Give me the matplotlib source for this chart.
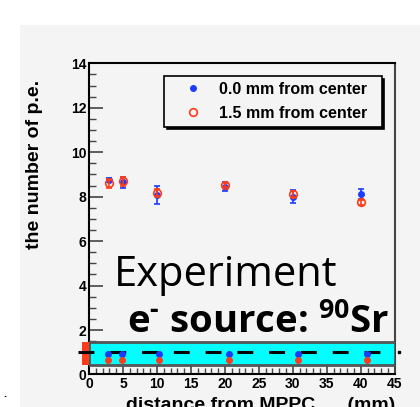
import numpy as np
import matplotlib
matplotlib.use("Agg")
import matplotlib.pyplot as plt
from matplotlib.patches import Rectangle

plt.rcParams['font.family'] = ['Liberation Sans', 'DejaVu Sans']
plt.rcParams['mathtext.fontset'] = 'custom'
plt.rcParams['mathtext.bf'] = 'Open Sans:bold'
plt.rcParams['mathtext.rm'] = 'Open Sans:bold'
plt.rcParams['mathtext.default'] = 'bf'

# 測定データ
dist = [3, 5, 10, 20, 30, 40]
pe_center = [8.75, 8.65, 8.07, 8.45, 8.0, 8.12]
err_center = [0.1, 0.25, 0.4, 0.2, 0.28, 0.22]
pe_off = [8.6, 8.7, 8.18, 8.52, 8.12, 7.75]
err_off = [0.2, 0.2, 0.15, 0.1, 0.15, 0.12]

# 下段の帯に描かれた点
band_x = [2.8, 4.8, 10.3, 20.6, 30.8, 40.9]
band_blue = [0.92, 0.92, 0.92, 0.92, 0.92, 0.92]
band_red = [0.65, 0.65, 0.65, 0.65, 0.65, 0.65]
band_lo, band_hi = 0.43, 1.46
ref_level = 1.0

bg = '#f4f4f4'
blue = '#1a3cff'
red = '#ff3b1a'

fig = plt.figure(figsize=(4.2, 4.07), dpi=100)
fig.patch.set_facecolor('white')
fig.patches.append(Rectangle((20 / 420, 0), 1, 1 - 25 / 407, transform=fig.transFigure,
                             facecolor=bg, edgecolor='none', zorder=-5))

ax = fig.add_axes([0.212, 0.0799, 0.728, 0.7646])
ax.set_zorder(2)
ax.set_facecolor(bg)
ax.set_xlim(0, 45)
ax.set_ylim(0, 14)

eb1 = ax.errorbar(dist, pe_center, yerr=err_center, fmt='o', color=blue, ms=4,
                  elinewidth=1.2, capsize=2, capthick=1.2, zorder=3)
eb2 = ax.errorbar(dist, pe_off, yerr=err_off, fmt='o', color=red, mfc='none', mew=1.2,
                  ms=5.5, elinewidth=1.2, capsize=2, capthick=1.2, zorder=4)

# 帯
ax.add_patch(Rectangle((0, band_lo), 45, band_hi - band_lo, facecolor='#00ffff',
                       edgecolor='#555555', lw=2, zorder=5))
ax.add_patch(Rectangle((-1.0, band_lo), 1.0, band_hi - band_lo, facecolor=red,
                       edgecolor='none', clip_on=False, zorder=5))
ax.plot([-1.6, 45], [ref_level, ref_level], color='black', lw=2.2,
        dashes=(5.2, 5.2), clip_on=False, zorder=6)
ax.plot([45.6], [ref_level], 's', color='black', ms=1.5, clip_on=False, zorder=6)
ax.plot(band_x, band_blue, 'o', color=blue, ms=4, zorder=7)
ax.plot(band_x, band_red, 'o', color=red, ms=4, zorder=7)

ax.text(0.082, 0.285, 'Experiment', transform=ax.transAxes, fontsize=30,
        family='Open Sans', color='black', zorder=8)
ax.text(0.123, 0.135, r'e$^{\text{-}}$ source: $^{90}$Sr', transform=ax.transAxes,
        fontsize=27.5, family='Open Sans', fontweight='bold', color='black', zorder=8)

leg = ax.legend([eb1[0], eb2[0]], ['0.0 mm from center', '1.5 mm from center'],
                loc='upper left', bbox_to_anchor=(0.245, 0.808, 0.712, 0.151),
                mode='expand', borderaxespad=0,
                frameon=True, fancybox=False, shadow={'color': 'black', 'alpha': 1},
                edgecolor='black', facecolor=bg, framealpha=1,
                prop={'weight': 'bold', 'size': 11.5}, handlelength=2.9,
                handletextpad=0.15, borderpad=0.37, labelspacing=0.55)
leg.get_frame().set_linewidth(1.2)

ax.set_xticks(np.arange(0, 46, 5))
ax.set_xticks(np.arange(0, 46, 1), minor=True)
ax.set_yticks(np.arange(0, 15, 2))
ax.set_yticks(np.arange(0, 14.1, 0.5), minor=True)
ax.tick_params(which='both', direction='in', colors='#444444', labelcolor='black',
               labelsize=10, top=False, right=False)
ax.tick_params(axis='y', which='major', length=10, width=1.2, pad=2)
ax.tick_params(axis='y', which='minor', length=5, width=1)
ax.tick_params(axis='x', which='major', length=7, width=1.2, pad=2)
ax.tick_params(axis='x', which='minor', length=4, width=1)
for lab in ax.get_xticklabels() + ax.get_yticklabels():
    lab.set_fontweight('bold')

for s in ['left', 'bottom', 'top']:
    ax.spines[s].set_color('black')
    ax.spines[s].set_linewidth(1.5)
ax.spines['right'].set_color('#444444')
ax.spines['right'].set_linewidth(1.5)

ax.set_ylabel('the number of p.e.', fontsize=14, fontweight='bold', loc='top')
ax.yaxis.set_label_coords(-0.15, 0.947)
ax.set_xlabel('distance from MPPC      (mm)', fontsize=14, fontweight='bold', loc='right',
              va='top')
ax.xaxis.set_label_coords(1.0, -0.072)

fig.text(3 / 420, 1 - 397 / 407, '.', fontsize=8, fontweight='bold')

fig.savefig('out.png', dpi=100, facecolor=fig.get_facecolor())
